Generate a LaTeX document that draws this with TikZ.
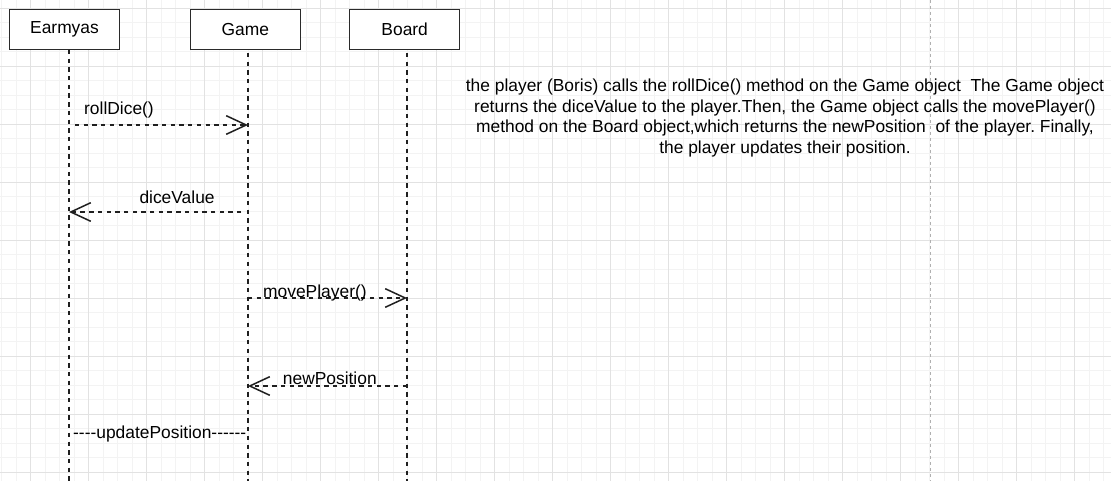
\documentclass[tikz,border=0pt]{standalone}
\usepackage{fontspec}
\setmainfont{Liberation Sans}[Ligatures=TeXOff]
\usetikzlibrary{arrows.meta}
\definecolor{gridmajor}{HTML}{E2E2E2}
\definecolor{gridminor}{HTML}{F3F3F3}
\definecolor{sepgray}{HTML}{B0B0B0}
\definecolor{boxline}{HTML}{2A2A2A}
\tikzset{
  lbl/.style={font=\fontsize{17.4}{20.6}\selectfont, inner sep=0pt},
  actor/.style={draw=boxline, line width=1.5pt, fill=white, minimum width=110pt, minimum height=40pt, inner sep=0pt, font=\fontsize{17.4}{20.6}\selectfont},
  lifeline/.style={draw=black!88, line width=1.6pt, dash pattern=on 4.35pt off 4.35pt},
  msg/.style={draw=black!88, line width=1.6pt, dash pattern=on 4.35pt off 4.35pt, -{Straight Barb[length=20pt,width=18.6pt,line width=1.5pt]}},
}
\begin{document}
\frenchspacing
\begin{tikzpicture}[x=1pt,y=-1pt]
\fill[white] (0,0) rectangle (1111,481);
\useasboundingbox (0,0) rectangle (1111,481);
% grid
\foreach \k in {0,...,76} {\draw[gridminor, line width=0.8pt] ({1.7+14.5*\k},0) -- ({1.7+14.5*\k},481);}
\foreach \k in {-1,...,32} {\draw[gridminor, line width=0.8pt] (0,{8.3+14.5*\k}) -- (1111,{8.3+14.5*\k});}
\foreach \k in {0,...,18} {\draw[gridmajor, line width=1pt] ({30.7+58*\k},0) -- ({30.7+58*\k},481);}
\foreach \k in {0,...,8} {\draw[gridmajor, line width=1pt] (0,{8.3+58*\k}) -- (1111,{8.3+58*\k});}
% separator
\coordinate (sepT) at (930.3,0);
\coordinate (sepB) at (930.3,481);
\draw[sepgray, line width=1pt, dash pattern=on 3pt off 3pt] (sepT) -- (sepB);
% actors
\node[actor] (E) at (64.5,29.5) {Earmyas};
\node[actor] (G) at (245.3,29.5) {Game};
\node[actor] (B) at (404.7,29.5) {Board};
% lifelines
\coordinate (Et) at (69,50);  \coordinate (Eb) at (69,481);
\coordinate (Gt) at (248,53); \coordinate (Gb) at (248,481);
\coordinate (Bt) at (407,53); \coordinate (Bb) at (407,481);
\draw[lifeline] (Et) -- (Eb);
\draw[lifeline] (Gt) -- (Gb);
\draw[lifeline] (Bt) -- (Bb);
% messages
\coordinate (E1) at (69,125);  \coordinate (G1) at (248,125);
\coordinate (G2) at (248,212); \coordinate (E2) at (69,212);
\coordinate (G3) at (248,298); \coordinate (B3) at (407,298);
\coordinate (B4) at (407,386); \coordinate (G4) at (248,386);
\draw[msg, shorten <=6pt] (E1) -- (G1);
\draw[msg, shorten <=6.6pt] (G2) -- (E2);
\draw[msg] (G3) -- (B3);
\draw[msg] (B4) -- (G4);
% labels
\node[lbl, anchor=base west] (l1) at (84,115) {rollDice()};
\node[lbl, anchor=base west] (l2) at (139.3,203.3) {diceValue};
\node[lbl, anchor=base west] (l3) at (263,297.3) {movePlayer()};
\node[lbl, anchor=base west] (l4) at (282.7,384) {newPosition};
\node[lbl, anchor=base west] (l5) at (73,438.3) {----updatePosition------};
% description
\node[lbl, anchor=north, align=center] (desc) at (785,78.8) {the player (Boris) calls the rollDice() method on the Game object\ \ The Game object\\returns the diceValue to the player.Then, the Game object calls the movePlayer()\\method on the Board object,which returns the newPosition\ \ of the player. Finally,\\the player updates their position.};
\end{tikzpicture}
\end{document}
